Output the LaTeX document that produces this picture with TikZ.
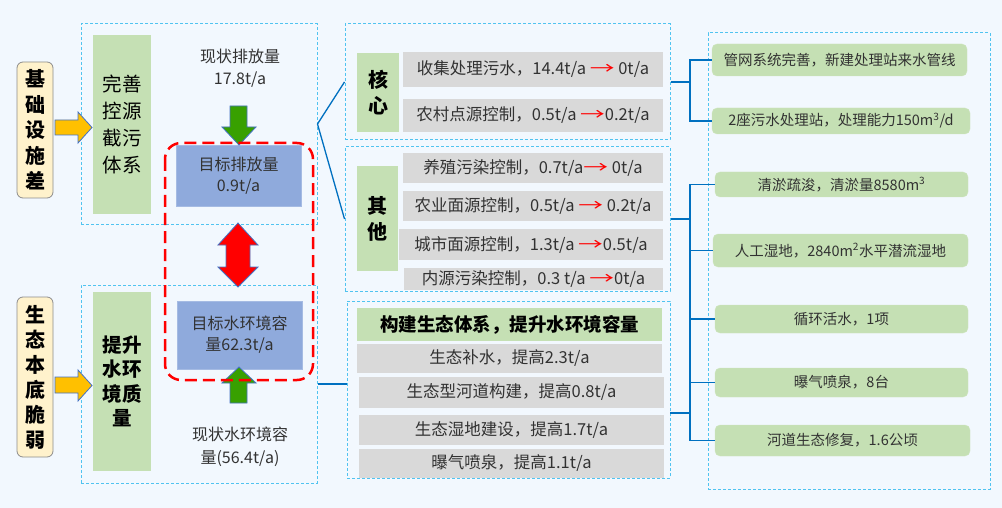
\documentclass[tikz,border=0pt]{standalone}
\usepackage{fontspec}
\usepackage{graphicx}
\setmainfont{Noto Sans CJK SC}
\usetikzlibrary{calc}
\definecolor{bgc}{RGB}{242,248,254}
\definecolor{dashc}{RGB}{80,195,240}
\definecolor{greenc}{RGB}{197,224,180}
\definecolor{greyc}{RGB}{217,217,217}
\definecolor{bluec}{RGB}{143,170,220}
\definecolor{creamc}{RGB}{255,242,204}
\definecolor{yelc}{RGB}{255,192,0}
\definecolor{garrow}{RGB}{56,160,0}
\definecolor{edgec}{RGB}{68,114,196}
\definecolor{linec}{RGB}{0,112,192}
\definecolor{txt}{RGB}{50,50,50}
\newcommand\myfs[2]{\fontsize{#1}{#2}\selectfont}
\newcommand\rarr{\textcolor{red}{\scalebox{1.5}[1]{→}}}
\begin{document}
\begin{tikzpicture}[x=1pt,y=-1pt,
  dashbox/.style={draw=dashc,dash pattern=on 3pt off 2pt,line width=1pt,inner sep=0pt},
  greybox/.style={fill=greyc,inner sep=0pt,text=txt,font=\myfs{16.5}{19}},
  gbox/.style={fill=greenc,inner sep=0pt,text=black,align=center},
  rbox/.style={fill=greenc,draw=greenc!85!white,rounded corners=5pt,inner sep=0pt,text=txt,font=\myfs{14.5}{17}},
  bbox/.style={fill=bluec,draw=bluec!80!white,inner sep=0pt,text=txt,align=center,font=\myfs{16}{21}},
  cbox/.style={fill=creamc,draw=black!45,rounded corners=6pt,inner sep=0pt,align=center,text=black,line width=0.8pt},
  conn/.style={draw=linec,line width=1.6pt},
  blockarrow/.style={draw=edgec,line width=0.8pt,line join=miter}
]
\useasboundingbox (0,0) rectangle (1002,508);
\fill[bgc] (0,0) rectangle (1002,508);

% dashed group boxes
\node[dashbox,minimum width=236pt,minimum height=200pt] (D1) at (199,124) {};
\node[dashbox,minimum width=236pt,minimum height=198pt] (D2) at (199,384) {};
\node[dashbox,minimum width=325pt,minimum height=116pt] (D3) at (507.5,82) {};
\node[dashbox,minimum width=325pt,minimum height=144pt] (D4) at (507.5,219) {};
\node[dashbox,minimum width=323pt,minimum height=177pt] (D5) at (508.5,389.5) {};
\node[dashbox,minimum width=282pt,minimum height=456pt] (D6) at (849,261) {};

% left cream boxes
\node[cbox,minimum width=36pt,minimum height=136pt,font=\myfs{20}{25.5}\bfseries] (L1) at (35,130) {基\\础\\设\\施\\差};
\node[cbox,minimum width=36pt,minimum height=160pt,font=\myfs{20}{25}\bfseries] (L2) at (35,377) {生\\态\\本\\底\\脆\\弱};

% yellow arrows
\filldraw[blockarrow,fill=yelc] (55,120) -- (78,120) -- (78,112) -- (92,127.5) -- (78,143) -- (78,135) -- (55,135) -- cycle;
\filldraw[blockarrow,fill=yelc] (55,377) -- (78,377) -- (78,370) -- (92,385.5) -- (78,401) -- (78,393) -- (55,393) -- cycle;

% green column boxes
\node[gbox,minimum width=58pt,minimum height=179pt,font=\myfs{19.5}{27}] (G1) at (122,124.5) {完善\\控源\\截污\\体系};
\node[gbox,minimum width=58pt,minimum height=179pt,font=\myfs{19.5}{24.5}\bfseries] (G2) at (122,381.5) {提升\\水环\\境质\\量};

% status texts
\node[align=center,text=txt,font=\myfs{16}{22}] (T1) at (240,68) {现状排放量\\17.8t/a};
\node[align=center,text=txt,font=\myfs{16}{23}] (T2) at (240,446.5) {现状水环境容\\量(56.4t/a)};

% blue target boxes
\node[bbox,minimum width=125pt,minimum height=61pt] (B1) at (238.5,175.5) {目标排放量\\0.9t/a};
\node[bbox,minimum width=125pt,minimum height=68pt] (B2) at (239.5,335) {目标水环境容\\量62.3t/a};

% green block arrows
\filldraw[blockarrow,fill=garrow] (230,106) -- (247,106) -- (247,127) -- (256,127) -- (239,145) -- (222,127) -- (230,127) -- cycle;
\filldraw[blockarrow,fill=garrow] (230,403) -- (247,403) -- (247,383) -- (256,383) -- (239,367) -- (222,383) -- (230,383) -- cycle;

% red double arrow
\filldraw[blockarrow,fill=red] (238,223) -- (258,245) -- (250,245) -- (250,267) -- (258,267) -- (238,287) -- (218,267) -- (226,267) -- (226,245) -- (218,245) -- cycle;

% red dashed frame
\draw[red,line width=2.5pt,dash pattern=on 12pt off 6pt,rounded corners=16pt] (165,143) rectangle (313,380);

% core group
\node[gbox,minimum width=42pt,minimum height=79pt,font=\myfs{20}{26}\bfseries] (K) at (378,92.5) {核\\心};
\node[greybox,minimum width=260pt,minimum height=35pt] (g1) at (533,69.5) {收集处理污水，14.4t/a \rarr\ 0t/a};
\node[greybox,minimum width=260pt,minimum height=33pt] (g2) at (533,115.5) {农村点源控制，0.5t/a \rarr 0.2t/a};

% other group
\node[gbox,minimum width=41pt,minimum height=105pt,font=\myfs{20}{26}\bfseries] (Q) at (377.5,218.5) {其\\他};
\node[greybox,minimum width=260pt,minimum height=30pt] (g3) at (533,168) {养殖污染控制，0.7t/a\rarr\ 0t/a};
\node[greybox,minimum width=260pt,minimum height=30pt] (g4) at (533,206) {农业面源控制，0.5t/a \rarr\ 0.2t/a};
\node[greybox,minimum width=264pt,minimum height=31pt] (g5) at (531,244.5) {城市面源控制，1.3t/a \rarr 0.5t/a};
\node[greybox,minimum width=259pt,minimum height=22pt] (g6) at (533.5,279) {内源污染控制，0.3 t/a \rarr 0t/a};

% ecology group
\node[gbox,minimum width=305pt,minimum height=33pt,font=\myfs{18.5}{22}\bfseries] (E0) at (509.5,324.5) {构建生态体系，提升水环境容量};
\node[greybox,minimum width=305pt,minimum height=29pt] (e1) at (509.5,358.5) {生态补水，提高2.3t/a};
\node[greybox,minimum width=305pt,minimum height=31pt] (e2) at (511.5,392.5) {生态型河道构建，提高0.8t/a};
\node[greybox,minimum width=305pt,minimum height=30pt] (e3) at (511.5,430) {生态湿地建设，提高1.7t/a};
\node[greybox,minimum width=305pt,minimum height=29pt] (e4) at (511.5,463.5) {曝气喷泉，提高1.1t/a};

% right measures
\node[rbox,minimum width=255pt,minimum height=32pt] (r1) at (839.5,60) {管网系统完善，新建处理站来水管线};
\node[rbox,minimum width=258pt,minimum height=26pt] (r2) at (841,121) {2座污水处理站，处理能力150m\textsuperscript{3}/d};
\node[rbox,minimum width=253pt,minimum height=25pt] (r3) at (841.5,184.5) {清淤疏浚，清淤量8580m\textsuperscript{3}};
\node[rbox,minimum width=255pt,minimum height=33pt] (r4) at (840.5,250.5) {人工湿地，2840m\textsuperscript{2}水平潜流湿地};
\node[rbox,minimum width=253pt,minimum height=28pt] (r5) at (841.5,319) {循环活水，1项};
\node[rbox,minimum width=253pt,minimum height=29pt] (r6) at (841.5,382.5) {曝气喷泉，8台};
\node[rbox,minimum width=255pt,minimum height=31pt] (r7) at (842.5,440.5) {河道生态修复，1.6公顷};

% connectors left -> middle
\draw[conn,line width=1.3pt] (D3.west) -- (D1.east) -- (D4.west);
\draw[conn,line width=1.3pt] (D2.east) -- (D2.east -| D5.west);

% connectors middle -> right
\coordinate (j1) at (690,82);
\coordinate (j2) at (690,219);
\coordinate (d5r) at (670,413);
\coordinate (j3) at (690,413);
\draw[conn] (D3.east) -- (j1);
\draw[conn] (r1.west) -| (j1) |- (r2.west);
\draw[conn] (D4.east) -- (j2);
\draw[conn] (d5r) -- (j3);
\draw[conn] (r3.west) -| (j2) |- (r7.west);
\draw[conn] (r4.west) -- (r4.west -| j2);
\draw[conn] (r5.west) -- (r5.west -| j2);
\draw[conn] (r6.west) -- (r6.west -| j2);
\end{tikzpicture}
\end{document}
